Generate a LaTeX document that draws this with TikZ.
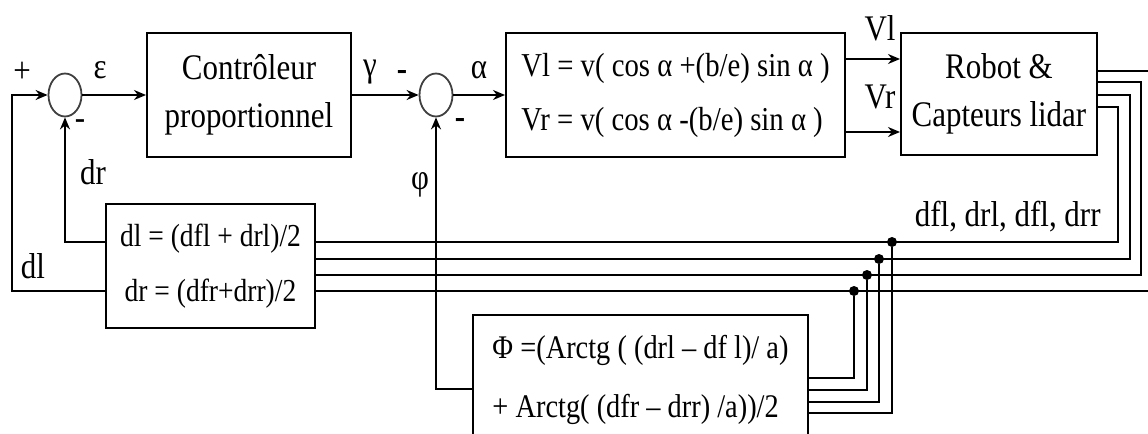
\documentclass[tikz,border=0pt]{standalone}
\usepackage{fontspec}
\setmainfont[FakeStretch=0.86]{Liberation Serif}
\usetikzlibrary{arrows.meta, positioning, calc, shapes.geometric}

\tikzset{
  font=\fontsize{18}{24}\selectfont,
  >={Stealth[length=6pt, width=5pt]},
  %
  blk/.style={draw, line width=1pt, align=center, inner sep=0pt},
  sumnode/.style={draw=black!75, ellipse, line width=0.9pt, inner sep=0pt,
                  minimum width=16.5pt, minimum height=21.5pt},
  %
  sig/.style={draw, line width=0.9pt, ->},
  wire/.style={draw, line width=0.9pt},
  %
  lbl/.style={inner sep=1pt},
  tap/.style={circle, fill, inner sep=0pt, minimum size=5pt},
}

\begin{document}
\begin{tikzpicture}[x=0.5pt, y=-0.5pt]

  \clip (0,0) rectangle (1148,434);

  % forward path
  \node[sumnode] (sum1) at (65,95) {};
  \node[blk, minimum width=102pt, minimum height=62pt]
    (ctrl) at (249,95) {Contrôleur\\proportionnel};
  \node[sumnode] (sum2) at (436,95) {};
  \node[blk, minimum width=169.5pt, minimum height=62pt, align=left,
        font=\fontsize{16.7}{27}\selectfont]
    (vel) at (675.5,95) {Vl = v( cos α +(b/e) sin α )\\Vr = v( cos α -(b/e) sin α )};
  \node[blk, minimum width=98pt, minimum height=61pt]
    (robot) at (999,94) {Robot \&\\Capteurs lidar};

  % feedback blocks
  \node[blk, minimum width=104.5pt, minimum height=62pt,
        font=\fontsize{16}{27.5}\selectfont]
    (avg) at (210.5,266) {dl = (dfl + drl)/2\\dr = (dfr+drr)/2};
  \node[blk, minimum width=167.5pt, minimum height=65pt, align=left,
        font=\fontsize{16.5}{29.5}\selectfont]
    (phi) at (640.5,380) {Φ =(Arctg ( (drl – df l)/ a)\\+ Arctg( (dfr – drr) /a))/2};

  % labels
  \node[lbl] (plus) at (22,72) {+};
  \node[lbl] (eps) at (100,70) {ε};
  \node[lbl] (m1) at (80,125) {-};
  \node[lbl] (gam) at (370,72) {γ};
  \node[lbl] (m2) at (402,75) {\textbf{-}};
  \node[lbl] (alp) at (479,70) {α};
  \node[lbl] (m3) at (460,123) {\textbf{-}};
  \node[lbl] (vl) at (880,28) {Vl};
  \node[lbl] (vr) at (880,97) {Vr};
  \node[lbl] (drlbl) at (93,172) {dr};
  \node[lbl] (philbl) at (420,185) {φ};
  \node[lbl] (dllbl) at (33,266) {dl};
  \node[lbl, anchor=east] (buslbl) at (1103,217) {dfl, drl, dfl, drr};

  \draw[sig] (sum1.east) -- (ctrl.west);
  \draw[sig] (ctrl.east) -- (sum2.west);
  \draw[sig] (sum2.east) -- (vel.west);
  \coordinate (vlrow) at (870,59);
  \coordinate (vrrow) at (870,132);
  \draw[sig] (vel.east |- vlrow) -- (robot.west |- vlrow);
  \draw[sig] (vel.east |- vrrow) -- (robot.west |- vrrow);

  % sensor bus
  \foreach \ry/\vx/\by/\py/\px [count=\k] in
    {71/1152/291/378/854, 82/1141/275/390/867,
     95/1130/259/402/879, 107/1118/242/413/892}{
    \coordinate (ro\k) at (1000,\ry);
    \coordinate (bus\k) at (\vx,\by);
    \coordinate (po\k) at (700,\py);
    \node[tap] (tap\k) at (\px,\by) {};
    \draw[wire] (robot.east |- ro\k) -| (bus\k) -- (avg.east |- bus\k);
    \draw[wire] (phi.east |- po\k) -| (tap\k);
  }

  % feedback into the sums
  \coordinate (dlin) at (12,95);
  \draw[sig] (avg.west |- bus1) -| (dlin) -- (sum1.west);
  \draw[sig] (avg.west |- bus4) -| (sum1.south);
  \coordinate (phiout) at (600,389);
  \draw[sig] (phi.west |- phiout) -| (sum2.south);

\end{tikzpicture}
\end{document}
